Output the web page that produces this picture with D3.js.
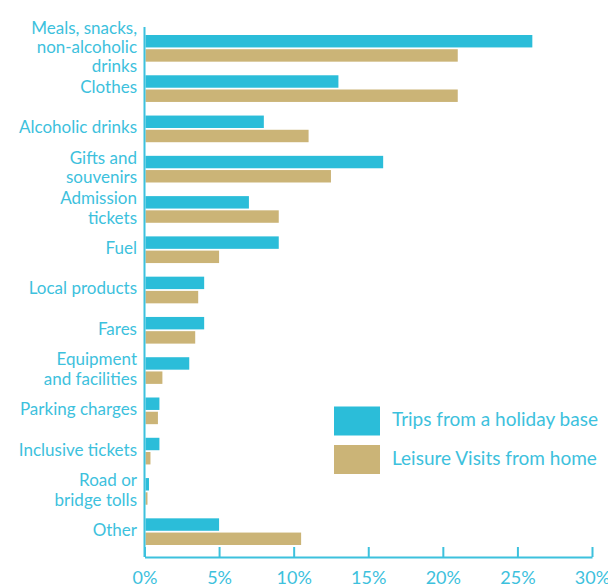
<!DOCTYPE html>
<html>
<head>
<meta charset="utf-8">
<script src="https://cdn.jsdelivr.net/npm/d3@7"></script>
<style>
  html, body { margin: 0; padding: 0; background: #ffffff; }
  svg { display: block; }
  text { font-family: "Lato", "Open Sans", sans-serif; fill: #3dc1dd; }
</style>
</head>
<body>
<svg id="chart" width="608" height="587"></svg>
<script>
// Spending categories (lines of each label)
const categories = [
  ["Meals, snacks,", "non-alcoholic", "drinks"],
  ["Clothes"],
  ["Alcoholic drinks"],
  ["Gifts and", "souvenirs"],
  ["Admission", "tickets"],
  ["Fuel"],
  ["Local products"],
  ["Fares"],
  ["Equipment", "and facilities"],
  ["Parking charges"],
  ["Inclusive tickets"],
  ["Road or", "bridge tolls"],
  ["Other"]
];
const seriesNames = ["Trips from a holiday base", "Leisure Visits from home"];
// Share of spend (%)
const holidayBase = [26, 13, 8, 16, 7, 9, 4, 4, 3, 1, 1, 0.3, 5];
const fromHome    = [21, 21, 11, 12.5, 9, 5, 3.6, 3.4, 1.2, 0.9, 0.4, 0.2, 10.5];
const xTicks = [0, 5, 10, 15, 20, 25, 30];

const colors = ["#2bbdd9", "#cbb477"];
const axisColor = "#3dc1dd";

const svg = d3.select("#chart");
const x0 = 144.5, x1 = 592, yTop = 27, yAxis = 557;

const keys = categories.map(c => c.join(" "));
const x = d3.scaleLinear().domain([0, 30]).range([x0, x1]);
const y = d3.scaleBand().domain(keys).range([35, 545]).paddingInner(0.338).paddingOuter(0);
const ySub = d3.scaleBand().domain(seriesNames).range([0, y.bandwidth()]).paddingInner(0.125);

const rows = keys.map((k, i) => ({ key: k, lines: categories[i], values: [holidayBase[i], fromHome[i]] }));

// Bars
const groups = svg.append("g").selectAll("g").data(rows).join("g")
  .attr("transform", d => `translate(0,${y(d.key)})`);
groups.selectAll("rect")
  .data(d => d.values.map((v, j) => ({ v, s: seriesNames[j], j })))
  .join("rect")
  .attr("x", x(0) + 1)
  .attr("y", d => ySub(d.s))
  .attr("width", d => x(d.v) - x(0) - 1)
  .attr("height", ySub.bandwidth())
  .attr("fill", d => colors[d.j]);

// Category labels
const lineH = 19.3;
groups.append("text")
  .attr("text-anchor", "end")
  .attr("font-size", 17)
  .each(function(d) {
    const n = d.lines.length;
    const c = y.bandwidth() / 2;
    d3.select(this).selectAll("tspan").data(d.lines).join("tspan")
      .attr("x", 137)
      .attr("y", (t, i) => c + 4.5 + (i - (n - 1) / 2) * lineH)
      .text(t => t);
  });

// Vertical axis line
svg.append("line")
  .attr("x1", x0).attr("x2", x0).attr("y1", yTop).attr("y2", yAxis)
  .attr("stroke", axisColor).attr("stroke-width", 2);

// Horizontal axis
const xAxis = d3.axisBottom(x).tickValues(xTicks).tickFormat(d => d + "%").tickSizeInner(-10).tickSizeOuter(0).tickPadding(14);
const gx = svg.append("g").attr("transform", `translate(0,${yAxis})`).call(xAxis);
gx.select(".domain").attr("stroke", axisColor).attr("stroke-width", 2);
gx.selectAll(".tick line").attr("stroke", axisColor).attr("stroke-width", 2);
gx.selectAll(".tick text").attr("fill", axisColor).attr("font-size", 18)
  .style("font-family", '"Lato", "Open Sans", sans-serif');

// Legend
const legend = svg.append("g").selectAll("g").data(seriesNames).join("g")
  .attr("transform", (d, i) => `translate(334,${406.5 + i * 38.5})`);
legend.append("rect").attr("width", 46).attr("height", 29).attr("fill", (d, i) => colors[i]);
legend.append("text").attr("x", 58).attr("y", 19.5).attr("font-size", 19).text(d => d);
</script>
</body>
</html>
